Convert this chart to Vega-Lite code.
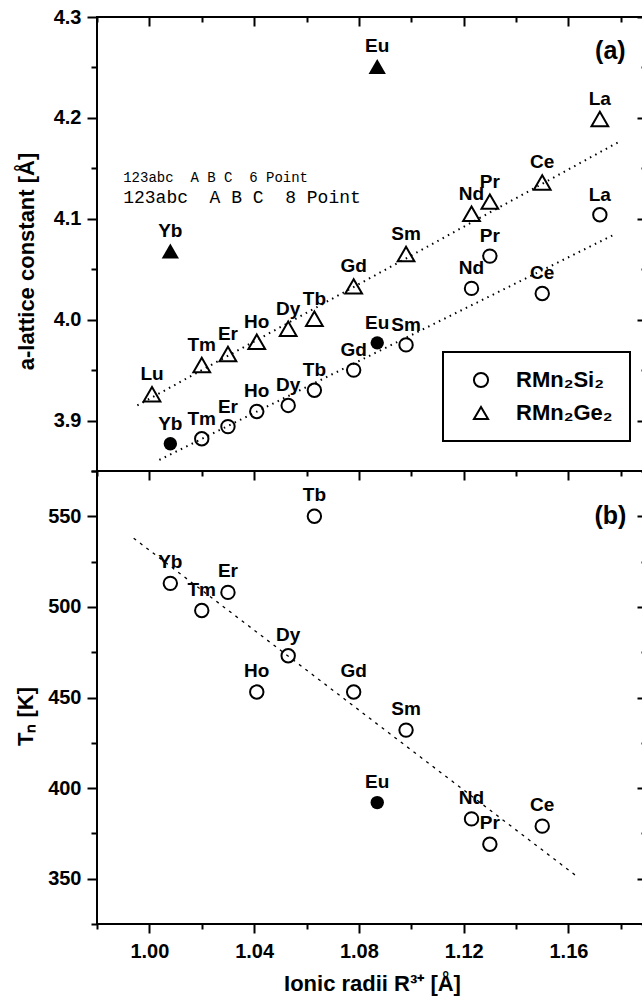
{
  "$schema": "https://vega.github.io/schema/vega-lite/v6.json",
  "background": "white",
  "padding": {"left": 13, "top": 6, "right": 0, "bottom": 5},
  "bounds": "flush",
  "spacing": 0,
  "datasets": {
    "lattice": [
      {"element": "Lu", "radius": 1.001, "a": 3.926, "compound": "RMn₂Ge₂", "filled": false},
      {"element": "Tm", "radius": 1.020, "a": 3.955, "compound": "RMn₂Ge₂", "filled": false},
      {"element": "Er", "radius": 1.030, "a": 3.966, "compound": "RMn₂Ge₂", "filled": false},
      {"element": "Ho", "radius": 1.041, "a": 3.978, "compound": "RMn₂Ge₂", "filled": false},
      {"element": "Dy", "radius": 1.053, "a": 3.991, "compound": "RMn₂Ge₂", "filled": false},
      {"element": "Tb", "radius": 1.063, "a": 4.001, "compound": "RMn₂Ge₂", "filled": false},
      {"element": "Gd", "radius": 1.078, "a": 4.033, "compound": "RMn₂Ge₂", "filled": false},
      {"element": "Sm", "radius": 1.098, "a": 4.065, "compound": "RMn₂Ge₂", "filled": false},
      {"element": "Nd", "radius": 1.123, "a": 4.105, "compound": "RMn₂Ge₂", "filled": false},
      {"element": "Pr", "radius": 1.130, "a": 4.117, "compound": "RMn₂Ge₂", "filled": false},
      {"element": "Ce", "radius": 1.150, "a": 4.136, "compound": "RMn₂Ge₂", "filled": false},
      {"element": "La", "radius": 1.172, "a": 4.199, "compound": "RMn₂Ge₂", "filled": false},
      {"element": "Eu", "radius": 1.087, "a": 4.251, "compound": "RMn₂Ge₂", "filled": true},
      {"element": "Yb", "radius": 1.008, "a": 4.068, "compound": "RMn₂Ge₂", "filled": true},
      {"element": "Yb", "radius": 1.008, "a": 3.877, "compound": "RMn₂Si₂", "filled": true},
      {"element": "Tm", "radius": 1.020, "a": 3.882, "compound": "RMn₂Si₂", "filled": false},
      {"element": "Er", "radius": 1.030, "a": 3.894, "compound": "RMn₂Si₂", "filled": false},
      {"element": "Ho", "radius": 1.041, "a": 3.909, "compound": "RMn₂Si₂", "filled": false},
      {"element": "Dy", "radius": 1.053, "a": 3.915, "compound": "RMn₂Si₂", "filled": false},
      {"element": "Tb", "radius": 1.063, "a": 3.930, "compound": "RMn₂Si₂", "filled": false},
      {"element": "Gd", "radius": 1.078, "a": 3.950, "compound": "RMn₂Si₂", "filled": false},
      {"element": "Eu", "radius": 1.087, "a": 3.977, "compound": "RMn₂Si₂", "filled": true},
      {"element": "Sm", "radius": 1.098, "a": 3.975, "compound": "RMn₂Si₂", "filled": false},
      {"element": "Nd", "radius": 1.123, "a": 4.031, "compound": "RMn₂Si₂", "filled": false},
      {"element": "Pr", "radius": 1.130, "a": 4.063, "compound": "RMn₂Si₂", "filled": false},
      {"element": "Ce", "radius": 1.150, "a": 4.026, "compound": "RMn₂Si₂", "filled": false},
      {"element": "La", "radius": 1.172, "a": 4.104, "compound": "RMn₂Si₂", "filled": false}
    ],
    "neel": [
      {"element": "Yb", "radius": 1.008, "tn": 513, "filled": false},
      {"element": "Tm", "radius": 1.020, "tn": 498, "filled": false},
      {"element": "Er", "radius": 1.030, "tn": 508, "filled": false},
      {"element": "Ho", "radius": 1.041, "tn": 453, "filled": false},
      {"element": "Dy", "radius": 1.053, "tn": 473, "filled": false},
      {"element": "Tb", "radius": 1.063, "tn": 550, "filled": false},
      {"element": "Gd", "radius": 1.078, "tn": 453, "filled": false},
      {"element": "Eu", "radius": 1.087, "tn": 392, "filled": true},
      {"element": "Sm", "radius": 1.098, "tn": 432, "filled": false},
      {"element": "Nd", "radius": 1.123, "tn": 383, "filled": false},
      {"element": "Pr", "radius": 1.130, "tn": 369, "filled": false},
      {"element": "Ce", "radius": 1.150, "tn": 379, "filled": false}
    ],
    "fitA": [
      {"compound": "RMn₂Ge₂", "radius": 0.9954, "a": 3.915},
      {"compound": "RMn₂Ge₂", "radius": 1.1798, "a": 4.177},
      {"compound": "RMn₂Si₂", "radius": 1.0038, "a": 3.861},
      {"compound": "RMn₂Si₂", "radius": 1.178, "a": 4.085}
    ],
    "fitTN": [
      {"radius": 0.994, "tn": 537.9},
      {"radius": 1.1634, "tn": 351.1}
    ],
    "sample": [
      {"line": 1, "radius": 0.990, "a": 4.136, "text": "123abc \u00a0A B C \u00a06 Point"},
      {"line": 2, "radius": 0.990, "a": 4.116, "text": "123abc \u00a0A B C \u00a08 Point"}
    ]
  },
  "vconcat": [
    {
      "width": 550,
      "height": 454,
      "layer": [
        {
          "data": {"name": "fitA"},
          "mark": {"type": "line", "stroke": "black", "strokeWidth": 2, "strokeDash": [1.5, 4.5]},
          "encoding": {
            "x": {"field": "radius", "type": "quantitative",
              "scale": {"domain": [0.98, 1.19], "nice": false, "zero": false},
              "axis": {"orient": "bottom", "values": [0.98, 1.0, 1.02, 1.04, 1.06, 1.08, 1.1, 1.12, 1.14, 1.16, 1.18],
                "labels": false, "title": null, "domain": false,
                "tickSize": {"condition": {"test": "round(datum.value*100) % 4 == 0", "value": 9}, "value": 5}}},
            "y": {"field": "a", "type": "quantitative",
              "scale": {"domain": [3.85, 4.3], "nice": false, "zero": false},
              "axis": {"orient": "left", "values": [3.85, 3.9, 3.95, 4.0, 4.05, 4.1, 4.15, 4.2, 4.25, 4.3],
                "labelExpr": "round(datum.value*100) % 10 == 0 ? format(datum.value, '.1f') : ''",
                "tickSize": {"condition": {"test": "round(datum.value*100) % 10 == 0", "value": 10}, "value": 6},
                "labelPadding": 6, "domain": false,
                "title": "a-lattice constant [Å]", "titleX": -59, "titleY": 244}},
            "detail": {"field": "compound"}
          }
        },
        {
          "data": {"name": "lattice"},
          "transform": [{"filter": "!datum.filled && datum.compound == 'RMn₂Si₂'"}],
          "mark": {"type": "point", "filled": false, "stroke": "black", "strokeWidth": 2, "size": 180, "opacity": 1},
          "encoding": {
            "x": {"field": "radius", "type": "quantitative",
              "axis": {"orient": "top", "values": [0.98, 1.0, 1.02, 1.04, 1.06, 1.08, 1.1, 1.12, 1.14, 1.16, 1.18],
                "labels": false, "title": null, "domain": false,
                "tickSize": {"condition": {"test": "round(datum.value*100) % 4 == 0", "value": -9}, "value": -5}}},
            "y": {"field": "a", "type": "quantitative",
              "axis": {"orient": "right", "values": [3.85, 3.9, 3.95, 4.0, 4.05, 4.1, 4.15, 4.2, 4.25, 4.3],
                "labels": false, "title": null, "domain": false,
                "tickSize": {"condition": {"test": "round(datum.value*100) % 10 == 0", "value": -10}, "value": -6}}},
            "shape": {"field": "compound", "type": "nominal",
              "scale": {"domain": ["RMn₂Si₂", "RMn₂Ge₂"], "range": ["circle", "triangle-up"]},
              "legend": {"title": null, "orient": "none", "legendX": 346, "legendY": 335,
                "strokeColor": "black", "fillColor": "white", "padding": 17,
                "symbolOffset": 10, "labelOffset": 24, "rowPadding": 10,
                "symbolSize": 200, "symbolStrokeColor": "black", "symbolStrokeWidth": 2, "symbolFillColor": "transparent",
                "labelFont": "Liberation Sans", "labelFontSize": 22, "labelFontWeight": "bold", "labelColor": "black"}}
          }
        },
        {
          "data": {"name": "lattice"},
          "transform": [{"filter": "!datum.filled && datum.compound == 'RMn₂Ge₂'"}],
          "mark": {"type": "point", "filled": false, "stroke": "black", "strokeWidth": 2, "size": 280, "opacity": 1},
          "encoding": {
            "x": {"field": "radius", "type": "quantitative", "axis": null},
            "y": {"field": "a", "type": "quantitative", "axis": null},
            "shape": {"field": "compound", "type": "nominal",
              "scale": {"domain": ["RMn₂Si₂", "RMn₂Ge₂"], "range": ["circle", "triangle-up"]}}
          }
        },
        {
          "data": {"name": "lattice"},
          "transform": [{"filter": "datum.filled && datum.compound == 'RMn₂Si₂'"}],
          "mark": {"type": "point", "shape": "circle", "size": 180, "filled": true, "color": "black", "opacity": 1},
          "encoding": {
            "x": {"field": "radius", "type": "quantitative", "axis": null},
            "y": {"field": "a", "type": "quantitative", "axis": null}
          }
        },
        {
          "data": {"name": "lattice"},
          "transform": [{"filter": "datum.filled && datum.compound == 'RMn₂Ge₂'"}],
          "mark": {"type": "point", "shape": "triangle-up", "size": 300, "filled": true, "color": "black", "opacity": 1},
          "encoding": {
            "x": {"field": "radius", "type": "quantitative", "axis": null},
            "y": {"field": "a", "type": "quantitative", "axis": null}
          }
        },
        {
          "data": {"name": "lattice"},
          "mark": {"type": "text", "font": "Liberation Sans", "fontSize": 19, "fontWeight": "bold",
            "dy": -20, "align": "center", "baseline": "middle", "color": "black"},
          "encoding": {
            "x": {"field": "radius", "type": "quantitative", "axis": null},
            "y": {"field": "a", "type": "quantitative", "axis": null},
            "text": {"field": "element"}
          }
        },
        {
          "data": {"name": "sample"},
          "transform": [{"filter": "datum.line == 1"}],
          "mark": {"type": "text", "font": "Liberation Mono", "fontSize": 14, "align": "left", "baseline": "alphabetic", "color": "black"},
          "encoding": {
            "x": {"field": "radius", "type": "quantitative", "axis": null},
            "y": {"field": "a", "type": "quantitative", "axis": null},
            "text": {"field": "text"}
          }
        },
        {
          "data": {"name": "sample"},
          "transform": [{"filter": "datum.line == 2"}],
          "mark": {"type": "text", "font": "Liberation Mono", "fontSize": 18, "align": "left", "baseline": "alphabetic", "color": "black"},
          "encoding": {
            "x": {"field": "radius", "type": "quantitative", "axis": null},
            "y": {"field": "a", "type": "quantitative", "axis": null},
            "text": {"field": "text"}
          }
        },
        {
          "data": {"values": [{"radius": 1.176, "a": 4.266, "tag": "(a)"}]},
          "mark": {"type": "text", "font": "Liberation Sans", "fontSize": 25, "fontWeight": "bold", "align": "center", "baseline": "middle", "color": "black"},
          "encoding": {
            "x": {"field": "radius", "type": "quantitative", "axis": null},
            "y": {"field": "a", "type": "quantitative", "axis": null},
            "text": {"field": "tag"}
          }
        }
      ],
      "resolve": {"axis": {"x": "independent", "y": "independent"}}
    },
    {
      "width": 550,
      "height": 453,
      "layer": [
        {
          "data": {"name": "fitTN"},
          "mark": {"type": "line", "stroke": "black", "strokeWidth": 1.3, "strokeDash": [3, 5]},
          "encoding": {
            "x": {"field": "radius", "type": "quantitative",
              "scale": {"domain": [0.98, 1.19], "nice": false, "zero": false},
              "axis": {"orient": "bottom", "values": [0.98, 1.0, 1.02, 1.04, 1.06, 1.08, 1.1, 1.12, 1.14, 1.16, 1.18],
                "labelExpr": "round(datum.value*100) % 4 == 0 ? format(datum.value, '.2f') : ''",
                "tickSize": {"condition": {"test": "round(datum.value*100) % 4 == 0", "value": 9}, "value": 5},
                "labelPadding": 8, "domain": false,
                "title": "Ionic radii R³⁺ [Å]", "titlePadding": 12}},
            "y": {"field": "tn", "type": "quantitative",
              "scale": {"domain": [325, 575], "nice": false, "zero": false},
              "axis": {"orient": "left", "values": [325, 350, 375, 400, 425, 450, 475, 500, 525, 550, 575],
                "labelExpr": "datum.value % 50 == 0 ? format(datum.value, 'd') : ''",
                "tickSize": {"condition": {"test": "datum.value % 50 == 0", "value": 10}, "value": 6},
                "labelPadding": 6, "domain": false,
                "title": "Tₙ [K]", "titleX": -60, "titleY": 245}}
          }
        },
        {
          "data": {"name": "neel"},
          "transform": [{"filter": "!datum.filled"}],
          "mark": {"type": "point", "shape": "circle", "size": 180, "filled": false, "stroke": "black", "strokeWidth": 2, "opacity": 1},
          "encoding": {
            "x": {"field": "radius", "type": "quantitative", "axis": null},
            "y": {"field": "tn", "type": "quantitative",
              "axis": {"orient": "right", "values": [325, 350, 375, 400, 425, 450, 475, 500, 525, 550, 575],
                "labels": false, "title": null, "domain": false,
                "tickSize": {"condition": {"test": "datum.value % 50 == 0", "value": -10}, "value": -6}}}
          }
        },
        {
          "data": {"name": "neel"},
          "transform": [{"filter": "datum.filled"}],
          "mark": {"type": "point", "shape": "circle", "size": 180, "filled": true, "color": "black", "opacity": 1},
          "encoding": {
            "x": {"field": "radius", "type": "quantitative", "axis": null},
            "y": {"field": "tn", "type": "quantitative", "axis": null}
          }
        },
        {
          "data": {"name": "neel"},
          "mark": {"type": "text", "font": "Liberation Sans", "fontSize": 19, "fontWeight": "bold",
            "dy": -21, "align": "center", "baseline": "middle", "color": "black"},
          "encoding": {
            "x": {"field": "radius", "type": "quantitative", "axis": null},
            "y": {"field": "tn", "type": "quantitative", "axis": null},
            "text": {"field": "element"}
          }
        },
        {
          "data": {"values": [{"radius": 1.176, "tn": 550, "tag": "(b)"}]},
          "mark": {"type": "text", "font": "Liberation Sans", "fontSize": 25, "fontWeight": "bold", "align": "center", "baseline": "middle", "color": "black"},
          "encoding": {
            "x": {"field": "radius", "type": "quantitative", "axis": null},
            "y": {"field": "tn", "type": "quantitative", "axis": null},
            "text": {"field": "tag"}
          }
        }
      ],
      "resolve": {"axis": {"x": "independent", "y": "independent"}}
    }
  ],
  "config": {
    "view": {"stroke": "black", "strokeWidth": 2},
    "axis": {
      "grid": false,
      "labelFont": "Liberation Sans", "labelFontSize": 20, "labelFontWeight": "bold", "labelColor": "black",
      "labelOverlap": false, "labelFlush": false,
      "tickColor": "black", "tickWidth": 2,
      "titleFont": "Liberation Sans", "titleFontSize": 22, "titleFontWeight": "bold", "titleColor": "black"
    },
    "legend": {"strokeWidth": 2}
  }
}
